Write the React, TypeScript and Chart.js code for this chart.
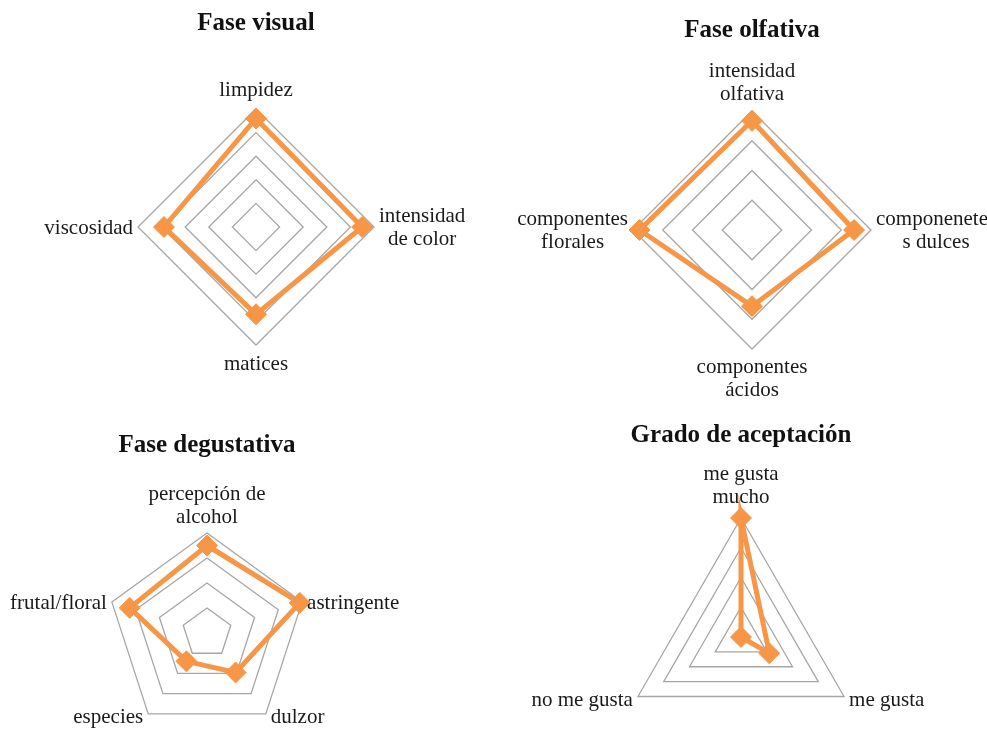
import React, { useEffect, useRef } from "react";
import { Chart, registerables } from "chart.js";

Chart.register(...registerables);

// ---------- data ----------
const visualTitle = "Fase visual";
const visualLabels = [["limpidez"], ["intensidad", "de color"], ["matices"], ["viscosidad"]];
const visualValues = [4.6, 4.5, 3.7, 3.9];
const visualMax = 5;

const olfativaTitle = "Fase olfativa";
const olfativaLabels = [["intensidad", "olfativa"], ["componenetes", "s dulces"], ["componentes", "ácidos"], ["componentes", "florales"]];
const olfativaValues = [3.67, 3.43, 2.56, 3.78];
const olfativaMax = 4;

const degustativaTitle = "Fase degustativa";
const degustativaLabels = [["percepción de", "alcohol"], ["astringente"], ["dulzor"], ["especies"], ["frutal/floral"]];
const degustativaValues = [3.5, 3.9, 1.95, 1.4, 3.25];
const degustativaMax = 4;

const aceptacionTitle = "Grado de aceptación";
const aceptacionLabels = [["me gusta", "mucho"], ["me gusta"], ["no me gusta"]];
const aceptacionValues = [4, 1.1, 0];
const aceptacionMax = 4;

// ---------- layout / style ----------
const W = 987;
const H = 800;
const FONT = "'Liberation Serif', 'Times New Roman', serif";
const ORANGE = "#F79646";
const GRID = "#a6a6a6";
const LABEL_SIZE = 21;
const LINE_H = 23.3;
const TITLE_SIZE = 25;

const panels = [
  { title: visualTitle, labels: visualLabels, values: visualValues, max: visualMax, cx: 256, cy: 227, r: 118, titleY: 24, padTop: 13, padBottom: 25 },
  { title: olfativaTitle, labels: olfativaLabels, values: olfativaValues, max: olfativaMax, cx: 752, cy: 230, r: 119, titleY: 31, padTop: 11, padBottom: 24 },
  { title: degustativaTitle, labels: degustativaLabels, values: degustativaValues, max: degustativaMax, cx: 207, cy: 633, r: 100, titleY: 446, padTop: 10, padBottom: 24 },
  { title: aceptacionTitle, labels: aceptacionLabels, values: aceptacionValues, max: aceptacionMax, cx: 741, cy: 637, r: 119, titleY: 436, padTop: 15, padBottom: 24 },
];

const labelPlugin = {
  id: "customPointLabels",
  afterDraw(chart: any, _args: any, opts: any) {
    const scale = chart.scales.r;
    const ctx = chart.ctx;
    const labels: string[][] = opts.labels;
    ctx.save();
    ctx.font = `${LABEL_SIZE}px ${FONT}`;
    ctx.fillStyle = "#1a1a1a";
    ctx.textBaseline = "alphabetic";
    const gap = 5;
    labels.forEach((lines, i) => {
      const p = scale.getPointPosition(i, scale.drawingArea);
      const dx = p.x - scale.xCenter;
      const dy = p.y - scale.yCenter;
      const n = lines.length;
      const maxW = Math.max(...lines.map((l) => ctx.measureText(l).width));
      let cx: number;
      let firstBase: number;
      if (Math.abs(dx) < 1) {
        cx = p.x;
        if (dy < 0) {
          firstBase = p.y - opts.padTop - (n - 1) * LINE_H;
        } else {
          firstBase = p.y + opts.padBottom;
        }
      } else if (dy > scale.drawingArea * 0.3) {
        cx = dx > 0 ? p.x + gap + maxW / 2 : p.x - gap - maxW / 2;
        firstBase = p.y + 9.5;
      } else {
        cx = dx > 0 ? p.x + gap + maxW / 2 : p.x - gap - maxW / 2;
        firstBase = p.y + 6.5 - ((n - 1) * LINE_H) / 2;
      }
      ctx.textAlign = "center";
      lines.forEach((l, k) => ctx.fillText(l, cx, firstBase + k * LINE_H));
    });
    ctx.restore();
  },
};

function RadarPanel({ panel }: { panel: (typeof panels)[number] }) {
  const ref = useRef<HTMLCanvasElement | null>(null);
  useEffect(() => {
    if (!ref.current) return;
    const titleLine = TITLE_SIZE * 1.2;
    const titlePadTop = panel.titleY - titleLine / 2;
    const titlePadBottom = panel.cy - panel.r - titlePadTop - titleLine;
    const chart = new Chart(ref.current, {
      type: "radar",
      data: {
        labels: panel.labels.map((l) => l.join(" ")),
        datasets: [
          {
            data: panel.values,
            borderColor: ORANGE,
            backgroundColor: "rgba(0,0,0,0)",
            borderWidth: 5,
            fill: false,
            pointStyle: "rectRot",
            pointRadius: 10.5,
            pointBackgroundColor: ORANGE,
            pointBorderColor: ORANGE,
            pointBorderWidth: 1,
            clip: false,
            tension: 0,
          } as any,
        ],
      },
      plugins: [labelPlugin],
      options: {
        responsive: false,
        animation: false,
        devicePixelRatio: 1,
        events: [],
        layout: {
          padding: {
            left: panel.cx - panel.r,
            right: W - (panel.cx + panel.r),
            top: 0,
            bottom: H - (panel.cy + panel.r),
          },
        },
        plugins: {
          legend: { display: false },
          tooltip: { enabled: false },
          title: {
            display: true,
            text: panel.title,
            color: "#111",
            font: { family: FONT, size: TITLE_SIZE, weight: "bold", lineHeight: 1.2 },
            padding: { top: titlePadTop, bottom: titlePadBottom },
          },
          customPointLabels: { labels: panel.labels, padTop: panel.padTop, padBottom: panel.padBottom },
        } as any,
        scales: {
          r: {
            min: 0,
            max: panel.max,
            ticks: { display: false, stepSize: 1 },
            grid: { color: GRID, lineWidth: 1.3, circular: false },
            angleLines: { display: false },
            pointLabels: { display: false },
          },
        },
      },
    });
    return () => chart.destroy();
  }, [panel]);
  return (
    <canvas
      ref={ref}
      width={W}
      height={H}
      style={{ position: "absolute", left: 0, top: 0, width: W, height: H }}
    />
  );
}

export default function App() {
  return (
    <div
      style={{
        position: "absolute",
        left: 0,
        top: 0,
        width: W,
        height: 729,
        overflow: "hidden",
        background: "#ffffff",
      }}
    >
      {panels.map((p, i) => (
        <RadarPanel key={i} panel={p} />
      ))}
    </div>
  );
}
